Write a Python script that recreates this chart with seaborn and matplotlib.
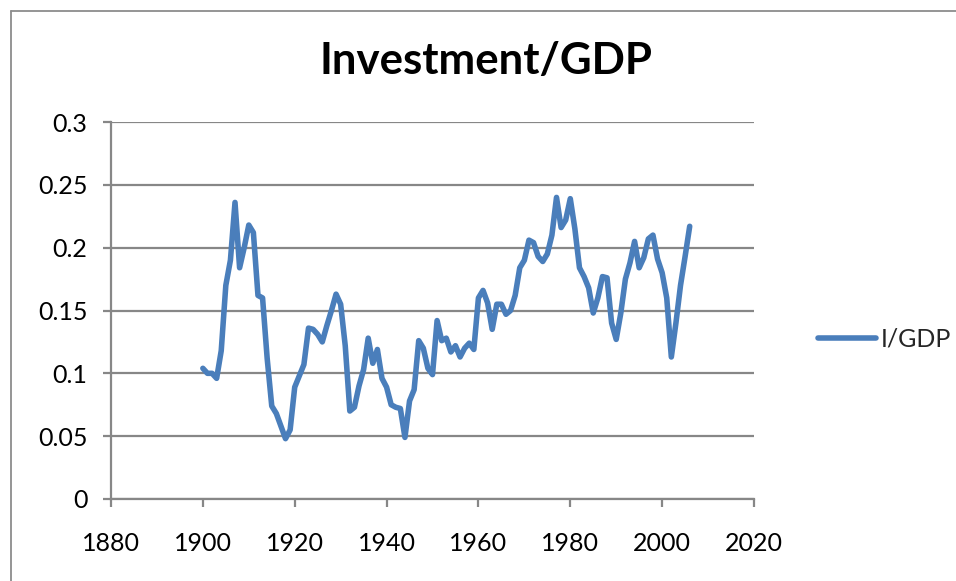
import matplotlib
matplotlib.use("Agg")
import matplotlib.pyplot as plt
from matplotlib.lines import Line2D
import seaborn as sns
import pandas as pd
import numpy as np

years = list(range(1900, 2007))
i_gdp = [
    0.104, 0.100, 0.100, 0.096, 0.118, 0.170, 0.190, 0.236, 0.184, 0.200,  # 1900-1909
    0.218, 0.212, 0.162, 0.160, 0.112, 0.074, 0.068, 0.058, 0.048, 0.055,  # 1910-1919
    0.089, 0.098, 0.107, 0.136, 0.135, 0.131, 0.125, 0.138, 0.150, 0.163,  # 1920-1929
    0.155, 0.122, 0.070, 0.073, 0.090, 0.103, 0.128, 0.108, 0.119, 0.096,  # 1930-1939
    0.089, 0.075, 0.073, 0.072, 0.049, 0.078, 0.087, 0.126, 0.120, 0.104,  # 1940-1949
    0.099, 0.142, 0.126, 0.128, 0.117, 0.122, 0.113, 0.120, 0.124, 0.119,  # 1950-1959
    0.160, 0.166, 0.156, 0.135, 0.155, 0.155, 0.147, 0.150, 0.162, 0.184,  # 1960-1969
    0.190, 0.206, 0.204, 0.193, 0.189, 0.195, 0.210, 0.240, 0.216, 0.222,  # 1970-1979
    0.239, 0.215, 0.184, 0.177, 0.168, 0.148, 0.160, 0.177, 0.176, 0.140,  # 1980-1989
    0.127, 0.148, 0.175, 0.188, 0.205, 0.184, 0.192, 0.207, 0.210, 0.191,  # 1990-1999
    0.180, 0.160, 0.113, 0.140, 0.170, 0.193, 0.217,                       # 2000-2006
]
series_name = "I/GDP"
title = "Investment/GDP"
x_ticks = [1880, 1900, 1920, 1940, 1960, 1980, 2000, 2020]
y_ticks = [0, 0.05, 0.1, 0.15, 0.2, 0.25, 0.3]
y_tick_labels = ["0", "0.05", "0.1", "0.15", "0.2", "0.25", "0.3"]

df = pd.DataFrame({"Year": years, "Value": i_gdp, "Series": series_name})

sns.set_style("white")
plt.rcParams["font.family"] = ["Lato", "DejaVu Sans"]

W, H = 956, 581
fig = plt.figure(figsize=(W / 100, H / 100), dpi=100)
ax = fig.add_axes([111 / W, 1 - 499 / H, (754 - 111) / W, (499 - 122) / H])

grid_c = "#878787"
line_c = "#4a7ebb"

sns.lineplot(data=df, x="Year", y="Value", hue="Series", palette=[line_c],
             linewidth=4.0, ax=ax, legend=True)
for ln in ax.lines:
    ln.set_solid_joinstyle("round")
    ln.set_solid_capstyle("round")

ax.set_xlim(1880, 2020)
ax.set_ylim(0, 0.3)
ax.set_xticks(x_ticks)
ax.set_yticks(y_ticks)
ax.set_yticklabels(y_tick_labels)
ax.set_xlabel("")
ax.set_ylabel("")

ax.grid(axis="y", color=grid_c, linewidth=1.6)
ax.set_axisbelow(True)
for s in ["top", "right"]:
    ax.spines[s].set_visible(False)
for s in ["left", "bottom"]:
    ax.spines[s].set_color(grid_c)
    ax.spines[s].set_linewidth(1.6)

ax.tick_params(axis="both", which="major", direction="out", length=6,
               width=1.6, color=grid_c, labelsize=18, labelcolor="black")
ax.tick_params(axis="x", pad=18, bottom=True)
ax.tick_params(axis="y", pad=11, left=True)

fig.text(486 / W, 1 - 61 / H, title, ha="center", va="center",
         fontsize=31.5, fontweight="bold", color="black")

leg = ax.legend(loc="center left", bbox_to_anchor=(818 / W, 1 - 339 / H),
                bbox_transform=fig.transFigure, frameon=False, fontsize=18,
                handlelength=2.3, handletextpad=0.2, borderpad=0, borderaxespad=0)
for h in leg.get_lines():
    h.set_linewidth(4.0)
    h.set_solid_capstyle("round")

# outer chart border (left and top edges visible)
fig.add_artist(Line2D([11 / W, 11 / W], [0, 1 - 11 / H], transform=fig.transFigure,
                      color="#8c8c8c", linewidth=1.3))
fig.add_artist(Line2D([11 / W, 1], [1 - 11 / H, 1 - 11 / H], transform=fig.transFigure,
                      color="#8c8c8c", linewidth=1.3))

fig.savefig("out.png", dpi=100, facecolor="white")
